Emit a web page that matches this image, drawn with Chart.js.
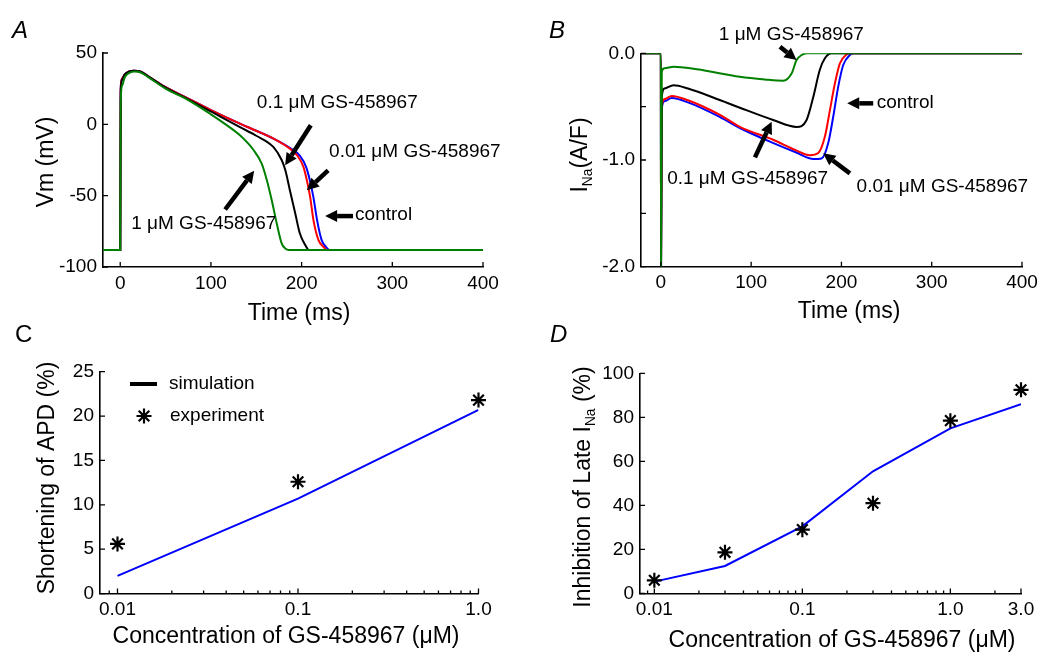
<!DOCTYPE html>
<html>
<head>
<meta charset="utf-8">
<script src="https://cdn.jsdelivr.net/npm/chart.js@4.4.1/dist/chart.umd.min.js"></script>
<style>
  body { margin: 0; background: #fff; }
  #wrap { position: relative; width: 1037px; height: 655px; }
  #wrap canvas { position: absolute; left: 0; top: 0; }
</style>
</head>
<body>
<div id="wrap">
  <canvas id="chartA" width="1037" height="655"></canvas>
  <canvas id="chartB" width="1037" height="655"></canvas>
  <canvas id="chartC" width="1037" height="655"></canvas>
  <canvas id="chartD" width="1037" height="655"></canvas>
</div>
<script>
// ---------- data ----------

// A: membrane potential (mV) vs time (ms)
const apTimeCtrl = [-19, 0, 0.5, 2, 5, 10, 15, 22, 30, 50, 75, 100, 132, 150, 169, 187, 198, 205, 209, 213, 217, 222, 227, 231, 400];
const apCtrl     = [-88, -88, 25, 32, 35, 37, 37.5, 37, 34, 26, 18, 10, 0.5, -4.5, -10, -16.5, -22, -30, -39, -51, -67, -81, -86, -88, -88];
const apTimeLow  = [-19, 0, 0.5, 2, 5, 10, 15, 22, 30, 50, 75, 100, 132, 150, 169, 187, 195, 202, 205.7, 209.4, 213, 218.5, 224, 228, 400];
const apLow      = [-88, -88, 25, 32, 35, 37, 37.5, 37, 34, 26, 18, 10, 0.5, -4.5, -10, -17, -21.7, -29.8, -39, -50.8, -67, -81, -85.8, -88, -88];
const apTimeMid  = [-19, 0, 0.5, 2, 5, 10, 15, 22, 30, 50, 75, 100, 132, 150, 169, 178, 182, 187, 193, 198, 204, 208, 400];
const apMid      = [-88, -88, 22, 31, 35, 37, 37.5, 37, 34, 25.8, 17.5, 9, -2, -8, -16, -25, -32, -46, -62.5, -76.4, -84.6, -88, -88];
const apTimeHigh = [-19, 0, 0.5, 2, 5, 10, 16, 22, 30, 50, 75, 100, 115, 132, 147, 156, 161.6, 167, 172.6, 178, 182, 186, 400];
const apHigh     = [-88, -88, 15, 27, 33, 36, 37, 36.5, 33.5, 25, 17, 7, 0.5, -7.7, -18, -27.5, -39, -53, -69.5, -83.4, -87, -88, -88];

// B: I_Na (A/F) vs time (ms); the upstroke spike runs off the bottom of the axis
const naTimeCtrl = [-22, 0, 0.2, 1, 4, 12, 30, 66, 87.5, 124, 150, 169, 178, 185.4, 191, 196.5, 202, 209.4, 213, 400];
const naCtrl     = [0, 0, -2, -0.52, -0.45, -0.42, -0.46, -0.6, -0.7, -0.84, -0.93, -0.99, -0.985, -0.84, -0.59, -0.31, -0.11, -0.016, 0, 0];
const naTimeLow  = [-22, 0, 0.2, 1, 4, 12, 30, 66, 87.5, 124.4, 150, 165, 174.3, 181.7, 187.3, 192.8, 198.3, 205.8, 209, 400];
const naLow      = [0, 0, -2, -0.5, -0.43, -0.4, -0.44, -0.58, -0.69, -0.81, -0.91, -0.955, -0.935, -0.78, -0.53, -0.28, -0.094, -0.01, 0, 0];
const naTimeMid  = [-22, 0, 0.2, 1, 4, 14, 30, 66, 87.5, 124.4, 150.3, 161.4, 168.8, 176, 181.7, 189, 400];
const naMid      = [0, 0, -2, -0.41, -0.33, -0.3, -0.33, -0.44, -0.51, -0.625, -0.69, -0.625, -0.41, -0.156, -0.047, 0, 0];
const naTimeHigh = [-22, 0, 0.2, 1, 4, 14, 40, 87.5, 115, 135.5, 144.8, 150.3, 156, 161.5, 400];
const naHigh     = [0, 0, -2, -0.17, -0.14, -0.125, -0.15, -0.22, -0.245, -0.257, -0.19, -0.063, -0.016, 0, 0];

// C: APD shortening (%) vs concentration (uM)
const apdConc = [0.01, 0.1, 1.0];
const apdSim  = [2.0, 10.7, 20.7];
const apdExp  = [5.6, 12.6, 21.8];

// D: late I_Na inhibition (%) vs concentration (uM)
const lateConc = [0.01, 0.03, 0.1, 0.3, 1.0, 3.0];
const lateSim  = [5.4, 12.5, 30.5, 55.5, 75, 86];
const lateExp  = [6, 18.7, 29, 41, 78.5, 92.5];

// tick values and labels
const timeTicks = [0, 100, 200, 300, 400];
const timeLabels = ['0', '100', '200', '300', '400'];
const vmTicks = [-100, -50, 0, 50];
const vmLabels = ['-100', '-50', '0', '50'];
const naTicks = [-2, -1.5, -1, -0.5, 0];
const naLabels = ['-2.0', '', '-1.0', '', '0.0'];
const apdConcTicks = [0.01, 0.1, 1.0];
const apdConcLabels = ['0.01', '0.1', '1.0'];
const apdTicks = [0, 5, 10, 15, 20, 25];
const apdLabels = ['0', '5', '10', '15', '20', '25'];
const lateConcTicks = [0.01, 0.1, 1.0, 3.0];
const lateConcLabels = ['0.01', '0.1', '1.0', '3.0'];
const lateTicks = [0, 20, 40, 60, 80, 100];
const lateLabels = ['0', '20', '40', '60', '80', '100'];

const drugLabels = ['1 μM GS-458967', '0.1 μM GS-458967', '0.01 μM GS-458967', 'control'];
const drugColors = ['rgb(0,128,0)', '#000000', '#ff0000', '#0000ff'];

// ---------- drawing helpers ----------
const FONT = '"Liberation Sans", Arial, Helvetica, sans-serif';
const W = 1037, H = 655;
Chart.defaults.font.family = FONT;
Chart.defaults.font.size = 19;
Chart.defaults.color = '#000';

const pts = (xs, ys) => xs.map((x, i) => ({x: x, y: ys[i]}));

function drawArrow(ctx, x1, y1, x2, y2) {
  const a = Math.atan2(y2 - y1, x2 - x1), L = 12, hw = 6;
  const bx = x2 - L * Math.cos(a), by = y2 - L * Math.sin(a);
  ctx.lineWidth = 4.5;
  ctx.beginPath(); ctx.moveTo(x1, y1); ctx.lineTo(bx, by); ctx.stroke();
  ctx.beginPath();
  ctx.moveTo(x2, y2);
  ctx.lineTo(bx + hw * Math.sin(a), by - hw * Math.cos(a));
  ctx.lineTo(bx - hw * Math.sin(a), by + hw * Math.cos(a));
  ctx.closePath(); ctx.fill();
}

function richText(ctx, parts, cx, cy, rotate, size) {
  ctx.save();
  ctx.translate(cx, cy);
  if (rotate) ctx.rotate(-Math.PI / 2);
  ctx.textBaseline = 'middle';
  ctx.textAlign = 'left';
  let w = 0;
  parts.forEach(p => { ctx.font = (p.sub ? size * 0.6 : size) + 'px ' + FONT; w += ctx.measureText(p.t).width; });
  let x = -w / 2;
  parts.forEach(p => {
    ctx.font = (p.sub ? size * 0.6 : size) + 'px ' + FONT;
    ctx.fillText(p.t, x, p.sub ? size * 0.32 : 0);
    x += ctx.measureText(p.t).width;
  });
  ctx.restore();
}

function drawStar(ctx, x, y, r) {
  const d = r * Math.SQRT1_2;
  ctx.beginPath();
  ctx.moveTo(x - r, y); ctx.lineTo(x + r, y);
  ctx.moveTo(x, y - r); ctx.lineTo(x, y + r);
  ctx.moveTo(x - d, y - d); ctx.lineTo(x + d, y + d);
  ctx.moveTo(x - d, y + d); ctx.lineTo(x + d, y - d);
  ctx.stroke();
}

// inward ticks, titles, panel letter, arrows and the legend of panel C
const decoPlugin = {
  id: 'deco',
  afterDraw(chart, args, o) {
    const ctx = chart.ctx, xs = chart.scales.x, ys = chart.scales.y, area = chart.chartArea;
    ctx.save();
    ctx.strokeStyle = '#000';
    ctx.fillStyle = '#000';
    ctx.lineWidth = 1.3;
    ctx.beginPath();
    xs.ticks.forEach(t => { const p = xs.getPixelForValue(t.value); ctx.moveTo(p, area.bottom); ctx.lineTo(p, area.bottom - 5); });
    ys.ticks.forEach(t => { const p = ys.getPixelForValue(t.value); ctx.moveTo(area.left, p); ctx.lineTo(area.left + 5, p); });
    if (xs.type === 'logarithmic') {
      for (let k = Math.floor(Math.log10(xs.min)); k <= Math.ceil(Math.log10(xs.max)); k++) {
        for (let m = 2; m <= 9; m++) {
          const v = m * Math.pow(10, k);
          if (v <= xs.min || v >= xs.max * 0.999) continue;
          const p = xs.getPixelForValue(v);
          ctx.moveTo(p, area.bottom); ctx.lineTo(p, area.bottom - 3);
        }
      }
    }
    ctx.stroke();

    // panel letter
    ctx.font = (o.letter.italic ? 'italic ' : '') + '24px ' + FONT;
    ctx.textAlign = 'left'; ctx.textBaseline = 'alphabetic';
    ctx.fillText(o.letter.text, o.letter.x, o.letter.y);

    // axis titles
    richText(ctx, o.xTitle.parts, o.xTitle.x, o.xTitle.y, false, 23);
    richText(ctx, o.yTitle.parts, o.yTitle.x, o.yTitle.y, true, 23);

    // annotations with arrows, placed in data coordinates
    (o.notes || []).forEach(n => {
      ctx.font = '19px ' + FONT;
      ctx.textAlign = 'left'; ctx.textBaseline = 'middle';
      ctx.fillText(n.text, xs.getPixelForValue(n.at[0]), ys.getPixelForValue(n.at[1]));
      drawArrow(ctx,
        xs.getPixelForValue(n.from[0]), ys.getPixelForValue(n.from[1]),
        xs.getPixelForValue(n.to[0]), ys.getPixelForValue(n.to[1]));
    });

    // legend (panel C)
    if (o.legend) {
      const lx = o.legend.x, ly = o.legend.y, gap = o.legend.gap;
      ctx.font = '19px ' + FONT;
      ctx.textAlign = 'left'; ctx.textBaseline = 'middle';
      ctx.lineWidth = 4;
      ctx.beginPath(); ctx.moveTo(lx, ly); ctx.lineTo(lx + 27, ly); ctx.stroke();
      ctx.fillText(chart.data.datasets[1].label, lx + 39, ly);
      ctx.lineWidth = 2.2;
      drawStar(ctx, lx + 14, ly + gap, 7.5);
      ctx.fillText(chart.data.datasets[0].label, lx + 40, ly + gap);
    }
    ctx.restore();
  }
};

// one helper builds a panel whose plot box sits at [left, top, right, bottom] of the page
function panel(id, box, x, y, datasets, deco) {
  const [left, top, right, bottom] = box;
  const axis = (spec, horizontal) => ({
    type: spec.type || 'linear',
    position: horizontal ? 'bottom' : 'left',
    min: spec.min, max: spec.max,
    grid: {display: false, drawTicks: false},
    border: {display: true, color: '#000', width: 1.6},
    ticks: {
      padding: horizontal ? 5 : 6,
      autoSkip: false, maxRotation: 0,
      font: {size: 19},
      callback: (v, i) => spec.labels[i]
    },
    afterBuildTicks: s => { s.ticks = spec.ticks.map(v => ({value: v})); },
    afterFit: s => {
      if (horizontal) s.height = H - bottom; else s.width = left;
      s.paddingLeft = s.paddingRight = s.paddingTop = s.paddingBottom = 0;
    }
  });
  return new Chart(document.getElementById(id), {
    type: 'line',
    data: {datasets: datasets},
    options: {
      responsive: false,
      animation: false,
      events: [],
      layout: {padding: {left: 0, top: top, right: W - right, bottom: 0}},
      scales: {x: axis(x, true), y: axis(y, false)},
      plugins: {legend: {display: false}, tooltip: {enabled: false}, deco: deco}
    },
    plugins: [decoPlugin]
  });
}

const curve = (label, color, xs, ys) => ({
  label: label, data: pts(xs, ys), borderColor: color, borderWidth: 2,
  pointRadius: 0, cubicInterpolationMode: 'monotone', fill: false
});

// ---------- A ----------
panel('chartA', [103, 53, 483, 267],
  {min: -19, max: 400, ticks: timeTicks, labels: timeLabels},
  {min: -100, max: 50, ticks: vmTicks, labels: vmLabels},
  [
    curve(drugLabels[0], drugColors[0], apTimeHigh, apHigh),
    curve(drugLabels[1], drugColors[1], apTimeMid, apMid),
    curve(drugLabels[2], drugColors[2], apTimeLow, apLow),
    curve(drugLabels[3], drugColors[3], apTimeCtrl, apCtrl)
  ],
  {
    letter: {text: 'A', x: 12, y: 38, italic: true},
    xTitle: {parts: [{t: 'Time (ms)'}], x: 299, y: 314},
    yTitle: {parts: [{t: 'Vm (mV)'}], x: 47, y: 162},
    notes: [
      {text: drugLabels[1], at: [150.6, 14.9], from: [210.1, -0.7], to: [181.8, -28.7]},
      {text: drugLabels[2], at: [230.3, -19.4], from: [229.2, -32.2], to: [205.7, -46.2]},
      {text: drugLabels[0], at: [12.1, -69.4], from: [115.7, -59.7], to: [147.7, -32.6]},
      {text: drugLabels[3], at: [259, -63.6], from: [256.7, -64.3], to: [225.9, -64.3]}
    ]
  });

// ---------- B ----------
panel('chartB', [641, 53.3, 1022, 266.7],
  {min: -22, max: 400, ticks: timeTicks, labels: timeLabels},
  {min: -2, max: 0, ticks: naTicks, labels: naLabels},
  [
    curve(drugLabels[0], drugColors[0], naTimeHigh, naHigh),
    curve(drugLabels[1], drugColors[1], naTimeMid, naMid),
    curve(drugLabels[2], drugColors[2], naTimeLow, naLow),
    curve(drugLabels[3], drugColors[3], naTimeCtrl, naCtrl)
  ],
  {
    letter: {text: 'B', x: 549, y: 38, italic: true},
    xTitle: {parts: [{t: 'Time (ms)'}], x: 849, y: 312},
    yTitle: {parts: [{t: 'I'}, {t: 'Na', sub: true}, {t: '(A/F)'}], x: 581, y: 155},
    notes: [
      {text: drugLabels[0], at: [64.2, 0.171], from: [131.9, 0.062], to: [150.3, -0.063]},
      {text: drugLabels[3], at: [239, -0.463], from: [235.2, -0.469], to: [206.4, -0.469]},
      {text: drugLabels[1], at: [7, -1.178], from: [104.2, -0.975], to: [122.7, -0.641]},
      {text: drugLabels[2], at: [216.8, -1.25], from: [209.4, -1.125], to: [179.8, -0.937]}
    ]
  });

// ---------- C and D ----------
const expSet = (xs, ys) => ({
  label: 'experiment', data: pts(xs, ys), showLine: false, pointStyle: 'star',
  pointRadius: 7.5, borderColor: '#000', borderWidth: 2.2, clip: false
});
const simSet = (xs, ys) => ({
  label: 'simulation', data: pts(xs, ys), borderColor: '#0000ff', borderWidth: 2,
  pointRadius: 0, tension: 0, fill: false
});

panel('chartC', [100, 371.7, 478.5, 593.6],
  {type: 'logarithmic', min: 0.008, max: 1.0, ticks: apdConcTicks, labels: apdConcLabels},
  {min: 0, max: 25, ticks: apdTicks, labels: apdLabels},
  [expSet(apdConc, apdExp), simSet(apdConc, apdSim)],
  {
    letter: {text: 'C', x: 15, y: 342, italic: false},
    xTitle: {parts: [{t: 'Concentration of GS-458967 (μM)'}], x: 286, y: 637},
    yTitle: {parts: [{t: 'Shortening of APD (%)'}], x: 48, y: 478},
    legend: {x: 130, y: 384, gap: 32}
  });

panel('chartD', [640, 373.3, 1021, 593.5],
  {type: 'logarithmic', min: 0.008, max: 3.0, ticks: lateConcTicks, labels: lateConcLabels},
  {min: 0, max: 100, ticks: lateTicks, labels: lateLabels},
  [expSet(lateConc, lateExp), simSet(lateConc, lateSim)],
  {
    letter: {text: 'D', x: 550, y: 342, italic: true},
    xTitle: {parts: [{t: 'Concentration of GS-458967 (μM)'}], x: 842, y: 641},
    yTitle: {parts: [{t: 'Inhibition of Late I'}, {t: 'Na', sub: true}, {t: ' (%)'}], x: 584, y: 487}
  });
</script>
</body>
</html>
